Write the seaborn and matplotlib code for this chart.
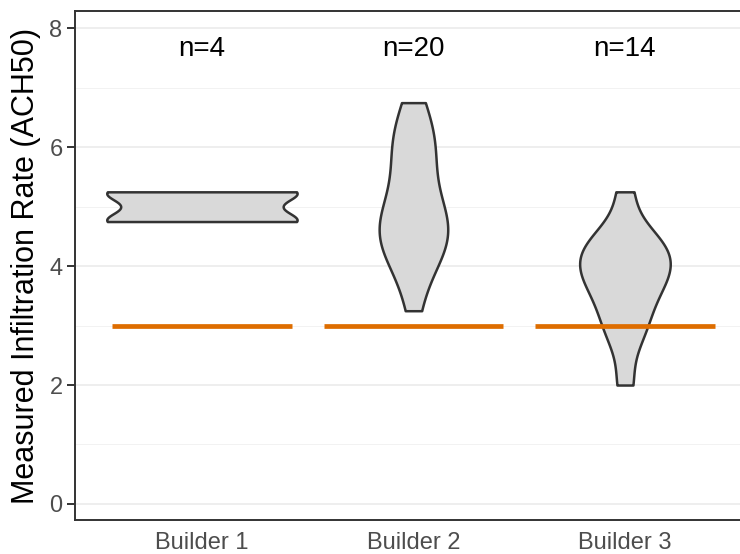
import numpy as np
import pandas as pd
import matplotlib
matplotlib.use('Agg')
import matplotlib.pyplot as plt
import seaborn as sns

# measured ACH50 per builder
builder1 = [4.75, 4.75, 5.25, 5.25]
builder2 = [3.25, 3.75, 4.0, 4.25, 4.25, 4.5, 4.5, 4.5, 4.75, 4.75,
            5.0, 5.0, 5.25, 5.5, 5.75, 6.0, 6.0, 6.25, 6.5, 6.75]
builder3 = [2.0, 2.75, 3.0, 3.25, 3.5, 3.75, 3.75, 4.0, 4.0, 4.25,
            4.25, 4.5, 4.5, 5.25]
builders = ['Builder 1', 'Builder 2', 'Builder 3']
targets = [3, 3, 3]

df = pd.DataFrame({
    'Builder': np.repeat(builders, [len(builder1), len(builder2), len(builder3)]),
    'ACH50': builder1 + builder2 + builder3,
})
counts = df.groupby('Builder')['ACH50'].size().reindex(builders)


# R style bw.nrd0 bandwidth, given to gaussian_kde as a factor
def nrd0(kde):
    x = kde.dataset[0]
    sd = np.std(x, ddof=1)
    q75, q25 = np.percentile(x, [75, 25])
    h = 0.9 * min(sd, (q75 - q25) / 1.34) * len(x) ** -0.2
    return h / sd


sns.set_theme(style='white')
plt.rcParams['font.family'] = ['Liberation Sans', 'DejaVu Sans']

fig = plt.figure(figsize=(7.4, 5.54), dpi=100)
ax = fig.add_axes([0.1014, 0.0614, 0.9146, 0.9186])

sns.violinplot(data=df, x='Builder', y='ACH50', order=builders, ax=ax,
               inner=None, cut=0, width=0.9, density_norm='area',
               bw_method=nrd0, gridsize=512, saturation=1,
               color='#D9D9D9', linecolor='#333333', linewidth=1.8, zorder=3)

# target line for each builder
for i, t in enumerate(targets):
    ax.hlines(t, i - 0.425, i + 0.425, color='#DE6D00', linewidth=3.4, zorder=4)

for i, b in enumerate(builders):
    ax.text(i, 7.65, f'n={counts[b]}', ha='center', va='center',
            fontsize=20, color='black')

ax.set_xlim(-0.6, 2.6)
ax.set_ylim(-0.27, 8.29)
ax.set_yticks([0, 2, 4, 6, 8])
ax.set_yticks([1, 3, 5, 7], minor=True)
ax.grid(axis='y', which='major', color='#EBEBEB', linewidth=1.2, zorder=0)
ax.grid(axis='y', which='minor', color='#F2F2F2', linewidth=0.7, zorder=0)
ax.grid(axis='x', visible=False)
ax.set_axisbelow(True)

for s in ax.spines.values():
    s.set_color('#333333')
    s.set_linewidth(1.4)

ax.tick_params(axis='y', which='major', left=True, length=5.5, width=1.4,
               color='#333333', pad=3.5, labelsize=17, labelcolor='#4D4D4D')
ax.tick_params(axis='y', which='minor', left=False, length=0)
ax.tick_params(axis='x', length=0, pad=8.5, labelsize=17, labelcolor='#4D4D4D')

ax.set_xlabel('')
ax.set_ylabel('Measured Infiltration Rate (ACH50)', fontsize=22, color='black',
              labelpad=6)

fig.savefig('out.png', dpi=100)
